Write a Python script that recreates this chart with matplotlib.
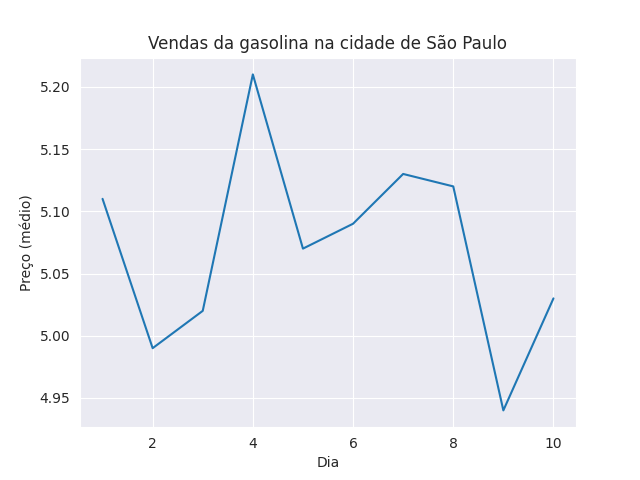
import matplotlib
matplotlib.use("Agg")
import matplotlib.pyplot as plt
import seaborn as sns

# dados
dias = [1, 2, 3, 4, 5, 6, 7, 8, 9, 10]
precos = [5.11, 4.99, 5.02, 5.21, 5.07, 5.09, 5.13, 5.12, 4.94, 5.03]

sns.set_style("darkgrid")
fig, ax = plt.subplots(figsize=(6.4, 4.8), dpi=100)
ax.plot(dias, precos, color="#1f77b4")
ax.set_title("Vendas da gasolina na cidade de São Paulo")
ax.set_xlabel("Dia")
ax.set_ylabel("Preço (médio)")
fig.savefig("out.png")
